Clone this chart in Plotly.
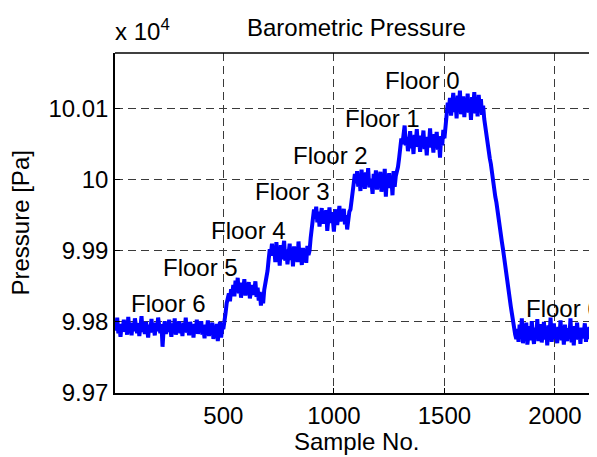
import plotly.graph_objects as go

# Barometric pressure readings [Pa], sampled every 5th sample, by segment
floor6_start = [
    99800, 99788, 99806, 99784, 99792, 99779, 99797, 99790, 99803, 99786,
    99795, 99782, 99807, 99789, 99794, 99781, 99799, 99787, 99805, 99791,
    99784, 99798, 99780, 99793, 99808, 99786, 99795, 99783, 99800, 99790,
    99778, 99796, 99788, 99804, 99785, 99792, 99781, 99799, 99787, 99806,
    99791, 99784, 99797, 99765, 99789, 99801, 99783, 99794, 99786, 99803,
    99790, 99779, 99798, 99787, 99805, 99782, 99795, 99788, 99801, 99784,
    99793, 99780, 99799, 99789, 99806, 99785, 99794, 99781, 99800, 99788,
    99792, 99778, 99797, 99786, 99803, 99783, 99795, 99789, 99801, 99782,
    99790, 99777, 99796, 99787, 99802, 99780, 99794, 99785, 99799, 99776,
    99791, 99783, 99797, 99773, 99789, 99800, 99778, 99792]
up_to5 = [99790, 99798, 99812, 99826, 99833, 99840, 99829, 99846]
floor5 = [
    99838, 99852, 99836, 99858, 99843, 99862, 99840, 99855, 99834, 99850,
    99845, 99860, 99837, 99849, 99841, 99856, 99833, 99847, 99852, 99838,
    99844, 99857, 99835, 99848, 99830, 99842, 99823, 99840, 99826, 99845,
    99852, 99864]
up_to4 = [99872, 99888, 99902, 99895, 99910]
floor4 = [
    99893, 99905, 99884, 99912, 99890, 99900, 99879, 99908, 99888, 99897,
    99914, 99886, 99902, 99881, 99895, 99910, 99887, 99899, 99878, 99906,
    99892, 99901, 99884, 99913, 99889, 99896, 99880, 99904, 99891, 99898,
    99883, 99907, 99894]
up_to3 = [99900, 99918, 99935, 99944, 99958]
floor3 = [
    99945, 99962, 99940, 99955, 99934, 99950, 99960, 99938, 99952, 99943,
    99957, 99928, 99949, 99961, 99939, 99954, 99945, 99927, 99951, 99958,
    99936, 99947, 99963, 99941, 99953, 99944, 99959, 99937, 99950, 99930,
    99946, 99955]
up_to2 = [99958, 99972, 99988, 99996, 100008]
floor2 = [
    99995, 100012, 99990, 100005, 99984, 100014, 99998, 100003, 99987, 100010,
    99993, 100016, 99989, 100001, 99996, 99980, 100008, 99992, 100013, 99986,
    100004, 99997, 100011, 99983, 100000, 99991, 100015, 99976, 100006, 99994,
    100009, 99988, 100002, 99978, 100012, 99990, 100005, 100010]
up_to1 = [100018, 100030, 100045, 100058, 100050]
floor1 = [
    100066, 100076, 100048, 100060, 100040, 100055, 100068, 100044, 100058, 100036,
    100063, 100050, 100071, 100046, 100057, 100039, 100062, 100053, 100069, 100043,
    100056, 100034, 100060, 100049, 100072, 100045, 100058, 100038, 100064, 100051,
    100067, 100042, 100055, 100031, 100061, 100048, 100070]
up_to0 = [100058, 100075, 100095, 100108]
floor0 = [
    100098, 100115, 100090, 100108, 100122, 100095, 100110, 100086, 100118, 100100,
    100125, 100092, 100106, 100117, 100088, 100112, 100097, 100121, 100094, 100109,
    100084, 100116, 100101, 100123, 100093, 100107, 100089, 100119, 100099, 100113,
    100091, 100104]
down_to6 = [
    100085, 100072, 100064, 100050, 100042, 100030, 100022, 100008, 99999, 99990,
    99976, 99968, 99955, 99946, 99933, 99924, 99912, 99902, 99889, 99880,
    99867, 99858, 99845, 99836, 99822, 99812, 99800, 99790, 99782, 99776]
floor6_end = [
    99790, 99772, 99796, 99778, 99805, 99770, 99788, 99779, 99799, 99768,
    99785, 99794, 99774, 99801, 99781, 99769, 99792, 99777, 99804, 99773,
    99787, 99797, 99771, 99783, 99800, 99775, 99790, 99767, 99795, 99780,
    99806, 99772, 99786, 99798, 99776, 99784, 99770, 99793, 99779, 99802,
    99774, 99789, 99768, 99796, 99782, 99773, 99791, 99778, 99805, 99771,
    99786, 99767, 99794, 99780, 99799, 99775, 99788, 99769, 99792, 99777,
    99784, 99798, 99772, 99787, 99776, 99793, 99781, 99789, 99784]

pressure = (floor6_start + up_to5 + floor5 + up_to4 + floor4 + up_to3 + floor3 +
            up_to2 + floor2 + up_to1 + floor1 + up_to0 + floor0 + down_to6 + floor6_end)
sample_no = list(range(10, 10 + 5 * len(pressure), 5))

# Floor labels: text, sample position, pressure position [Pa]
label_text = ["Floor 6", "Floor 5", "Floor 4", "Floor 3", "Floor 2", "Floor 1", "Floor 0", "Floor 6"]
label_x = [254, 397, 616, 813, 985, 1222, 1403, 1860]
label_y = [99826, 99877, 99929, 99983, 100034, 100086, 100140, 99819]
label_anchor = ["center"] * 7 + ["left"]

y_ticks = [99700, 99800, 99900, 100000, 100100]
y_tick_text = ["9.97", "9.98", "9.99", "10", "10.01"]
x_ticks = [500, 1000, 1500, 2000]

FONT = "Liberation Sans, Arial, Helvetica, sans-serif"
TXT = dict(size=24, color="black", family=FONT)

fig = go.Figure()
fig.add_trace(go.Scatter(x=sample_no, y=pressure, mode="lines",
                         line=dict(color="#0000ff", width=4.0), showlegend=False))

for t, x, y, a in zip(label_text, label_x, label_y, label_anchor):
    fig.add_annotation(x=x, y=y, text=t, showarrow=False, xanchor=a, yanchor="middle",
                       font=TXT)

# multiplier, title, axis titles
fig.add_annotation(xref="paper", yref="paper", x=0, y=1, xanchor="left", yanchor="bottom",
                   xshift=-2, yshift=6, text="x 10<sup>4</sup>", showarrow=False, font=TXT)
fig.add_annotation(xref="paper", yref="paper", x=0.5, y=1, xanchor="center", yanchor="bottom",
                   yshift=10, text="Barometric Pressure", showarrow=False, font=TXT)
fig.add_annotation(xref="paper", yref="paper", x=0.5, y=0, xanchor="center", yanchor="top",
                   yshift=-33, text="Sample No.", showarrow=False, font=TXT)
fig.add_annotation(xref="paper", yref="paper", x=0, y=0.5, xanchor="right", yanchor="middle",
                   xshift=-80, textangle=-90, text="Pressure [Pa]", showarrow=False, font=TXT)

fig.add_shape(type="line", xref="paper", yref="paper", x0=0, x1=1, y0=1, y1=1,
              line=dict(color="black", width=1.5))

fig.update_xaxes(range=[10, 2190], tickvals=x_ticks, showgrid=True, gridcolor="#3a3a3a",
                 griddash="8px,5px", gridwidth=1, showline=True, linecolor="black", linewidth=1.5,
                 ticks="inside", ticklen=5, tickcolor="black", zeroline=False, automargin=False,
                 tickfont=TXT)
fig.update_yaxes(range=[99700, 100178], tickvals=y_ticks, ticktext=y_tick_text, showgrid=True,
                 gridcolor="#3a3a3a", griddash="8px,5px", gridwidth=1, showline=True,
                 linecolor="black", linewidth=1.5, ticks="inside", ticklen=5, tickcolor="black",
                 zeroline=False, automargin=False, tickfont=TXT)

# the page body adds an 8px offset; size the figure so the plot area lands where the reference has it
fig.update_layout(width=589, height=449, margin=dict(l=107, r=0, t=45, b=64),
                  plot_bgcolor="white", paper_bgcolor="white", showlegend=False)

fig.write_html("out.html")
